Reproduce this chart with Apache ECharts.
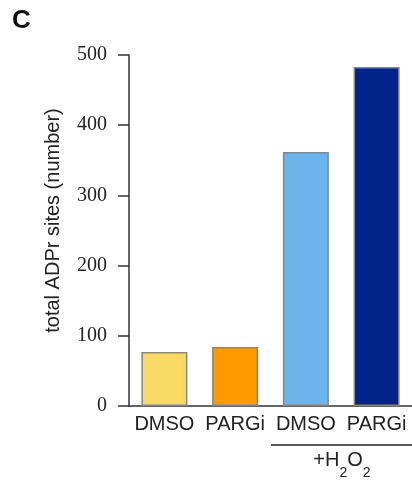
<!DOCTYPE html>
<html>
<head>
<meta charset="utf-8">
<script src="https://cdn.jsdelivr.net/npm/echarts@6/dist/echarts.min.js"></script>
<style>
  html, body { margin: 0; padding: 0; background: #fff; }
  #chart { width: 412px; height: 481px; }
</style>
</head>
<body>
<div id="chart"></div>
<script>
// Treatment groups and total ADP-ribosylation sites detected per group
const categories = ['DMSO', 'PARGi', 'DMSO', 'PARGi'];
const siteCounts = [77, 84, 362, 483];
const barColors = ['#F8DA64', '#FF9A00', '#6CB4EC', '#00248A'];
const yTicks = [0, 100, 200, 300, 400, 500];

const chart = echarts.init(document.getElementById('chart'), null, { renderer: 'canvas' });

const axisColor = '#333333';

chart.setOption({
  animation: false,
  backgroundColor: '#ffffff',
  grid: { left: 129, top: 55, width: 283, height: 351, containLabel: false },
  xAxis: {
    type: 'category',
    data: categories,
    axisLine: { lineStyle: { color: axisColor, width: 1.5 } },
    axisTick: { show: false },
    axisLabel: {
      margin: 8,
      color: '#222',
      fontFamily: 'Liberation Sans, Arial, sans-serif',
      fontSize: 20,
      lineHeight: 20,
      interval: 0
    }
  },
  yAxis: {
    type: 'value',
    min: yTicks[0],
    max: yTicks[yTicks.length - 1],
    interval: 100,
    name: 'total ADPr sites (number)',
    nameLocation: 'middle',
    nameGap: 66,
    nameTextStyle: {
      color: '#222',
      fontFamily: 'Liberation Sans, Arial, sans-serif',
      fontSize: 20,
      lineHeight: 20,
      padding: [0, 0, 0, 20]
    },
    axisLine: { show: true, lineStyle: { color: axisColor, width: 1.5 } },
    axisTick: { show: true, inside: false, length: 11, lineStyle: { color: axisColor, width: 1.5 } },
    splitLine: { show: false },
    axisLabel: {
      margin: 22,
      color: '#222',
      fontFamily: 'Liberation Serif, Times New Roman, serif',
      fontSize: 20,
      lineHeight: 20,
      formatter: function (v) { return yTicks.indexOf(v) >= 0 ? String(v) : ''; }
    }
  },
  series: [{
    type: 'bar',
    barWidth: 46,
    data: siteCounts.map(function (v, i) {
      return {
        value: v,
        itemStyle: { color: barColors[i], borderColor: '#868686', borderWidth: 1.5 }
      };
    })
  }],
  graphic: [
    {
      type: 'text',
      left: 12,
      top: 8,
      style: {
        text: 'C',
        fontFamily: 'Liberation Sans, Arial, sans-serif',
        fontWeight: 'bold',
        fontSize: 26,
        fill: '#111'
      }
    },
    {
      type: 'line',
      shape: { x1: 271, y1: 445, x2: 412, y2: 445 },
      style: { stroke: '#222', lineWidth: 1.5 }
    },
    {
      type: 'text',
      x: 342,
      y: 450,
      style: {
        text: '{m|+H}{s|2}{m|O}{s|2}',
        align: 'center',
        verticalAlign: 'top',
        fill: '#222',
        rich: {
          m: { fontFamily: 'Liberation Sans, Arial, sans-serif', fontSize: 20, lineHeight: 20, verticalAlign: 'top', fill: '#222' },
          s: { fontFamily: 'Liberation Sans, Arial, sans-serif', fontSize: 14, lineHeight: 14, padding: [16, 0, 0, 0], verticalAlign: 'top', fill: '#222' }
        }
      }
    }
  ]
});
</script>
</body>
</html>
